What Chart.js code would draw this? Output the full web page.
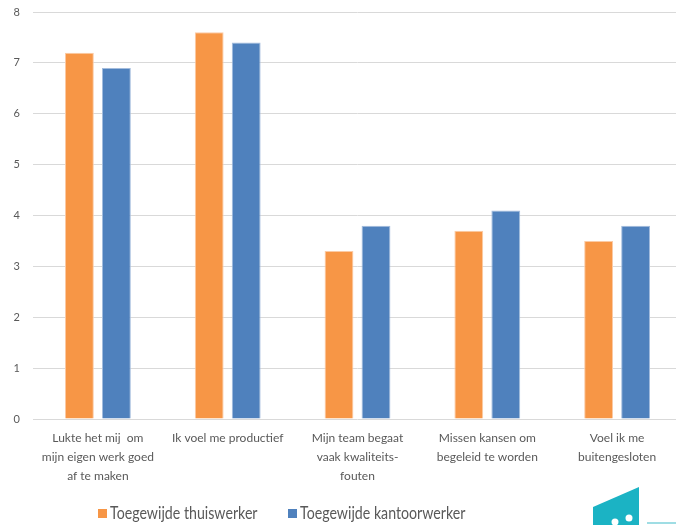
<!DOCTYPE html>
<html>
<head>
<meta charset="utf-8">
<script src="https://cdn.jsdelivr.net/npm/chart.js@4/dist/chart.umd.min.js"></script>
<style>
  html, body { margin: 0; padding: 0; background: #fff; overflow: hidden; width: 676px; height: 525px; }
  #wrap { position: relative; width: 676px; height: 525px; overflow: hidden; }
  canvas { position: absolute; left: 0; top: 0; }
  #logo { position: absolute; left: 590px; top: 484px; }
</style>
</head>
<body>
<div id="wrap">
<canvas id="c" width="682" height="525"></canvas>
<svg id="logo" width="86" height="41" viewBox="0 0 86 41">
  <polygon points="3,23 49,3 49,41 3,41" fill="#1BB3C4"/>
  <circle cx="25" cy="38" r="3.5" fill="#fff"/>
  <circle cx="39" cy="34" r="3.5" fill="#fff"/>
  <rect x="57" y="38" width="29" height="2" fill="#9FDDE4"/>
</svg>
</div>
<script>
const categories = [
  ["Lukte het mij  om", "mijn eigen werk goed", "af te maken"],
  ["Ik voel me productief"],
  ["Mijn team begaat", "vaak kwaliteits-", "fouten"],
  ["Missen kansen om", "begeleid te worden"],
  ["Voel ik me", "buitengesloten"]
];
const seriesNames = ["Toegewijde thuiswerker", "Toegewijde kantoorwerker"];
const thuiswerker = [7.2, 7.6, 3.3, 3.7, 3.5];
const kantoorwerker = [6.9, 7.4, 3.8, 4.1, 3.8];
const yTicks = [0, 1, 2, 3, 4, 5, 6, 7, 8];

const FONT = "Lato, 'Liberation Sans', sans-serif";

// legend drawn from the datasets, placed like the original (left-shifted)
const customLegend = {
  id: 'customLegend',
  afterDraw(chart) {
    const ctx = chart.ctx;
    const starts = [98, 288];
    const yc = 514;
    ctx.save();
    ctx.font = "16.5px " + FONT;
    ctx.textBaseline = 'middle';
    ctx.textAlign = 'left';
    chart.data.datasets.forEach((ds, i) => {
      const x = starts[i];
      ctx.fillStyle = ds.backgroundColor;
      ctx.fillRect(x, yc - 5, 9, 9);
      ctx.fillStyle = '#595959';
      const tx = x + 12;
      const sx = 0.86;
      ctx.save();
      ctx.translate(tx, yc);
      ctx.scale(sx, 1);
      ctx.fillText(ds.label, 0, 0);
      ctx.restore();
    });
    ctx.restore();
  }
};

new Chart(document.getElementById('c'), {
  type: 'bar',
  data: {
    labels: categories,
    datasets: [
      { label: seriesNames[0], data: thuiswerker, backgroundColor: '#F79646', borderColor: '#FBCBA6', borderWidth: 1,
        categoryPercentage: 0.57, barPercentage: 0.78 },
      { label: seriesNames[1], data: kantoorwerker, backgroundColor: '#4F81BD', borderColor: '#A3BCDD', borderWidth: 1,
        categoryPercentage: 0.57, barPercentage: 0.78 }
    ]
  },
  options: {
    responsive: false,
    animation: false,
    layout: { padding: { top: 12, left: 0, right: 0, bottom: 30 } },
    plugins: {
      tooltip: { enabled: false },
      legend: { display: false }
    },
    scales: {
      x: {
        grid: { display: false, drawTicks: false },
        border: { display: false },
        ticks: {
          font: { family: FONT, size: 12, lineHeight: 1.58 },
          color: '#595959',
          maxRotation: 0,
          autoSkip: false,
          padding: 10
        },
        afterFit(s) { s.height = 76; s.paddingLeft = 0; s.paddingRight = 0; }
      },
      y: {
        min: 0, max: 8,
        afterBuildTicks(s) { s.ticks = yTicks.map(v => ({ value: v })); },
        grid: { color: '#D9D9D9', lineWidth: 1, drawTicks: false },
        border: { display: false },
        ticks: {
          font: { family: FONT, size: 11 },
          color: '#595959',
          padding: 13
        },
        afterFit(s) { s.width = 33; s.paddingTop = 0; s.paddingBottom = 0; }
      }
    }
  },
  plugins: [customLegend]
});
</script>
</body>
</html>
